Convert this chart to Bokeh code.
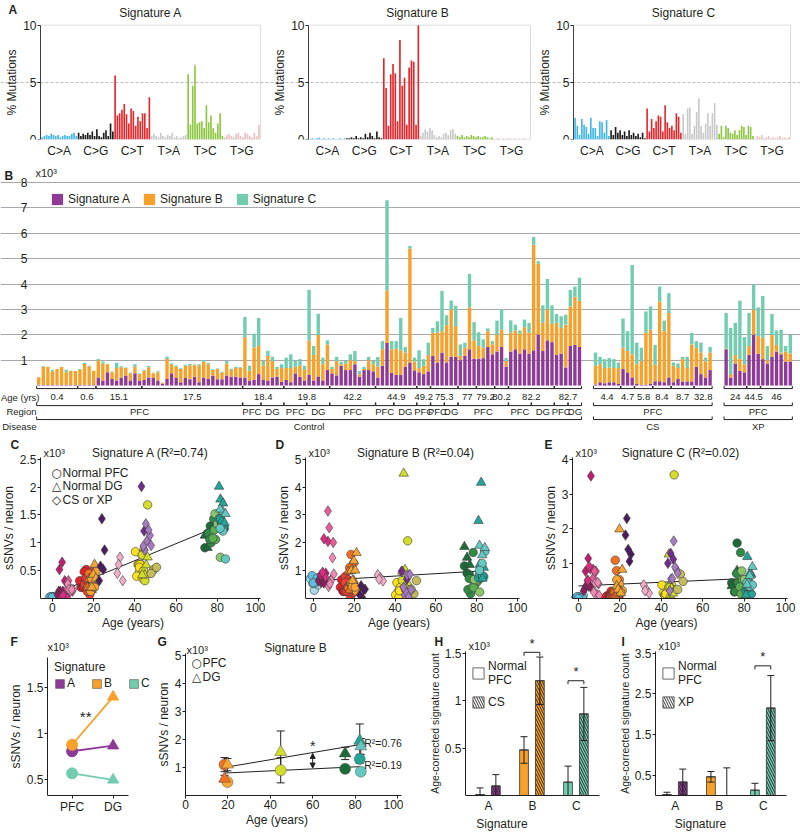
import numpy as np
from bokeh.plotting import figure
from bokeh.layouts import column, row
from bokeh.models import (ColumnDataSource, FixedTicker, Label, Legend, LegendItem, BoxAnnotation,
                          Whisker, TeeHead, Arrow, NormalHead, Range1d, NumeralTickFormatter)
from bokeh.embed import file_html
from bokeh.resources import INLINE
from bokeh.core.properties import value

FONT = "Liberation Sans"
SYMFONT = "DejaVu Sans"
INK = "#231F20"

# ---------------- Panel A: mutational signature profiles (% of mutations) ----------------
mutation_classes = ["C>A", "C>G", "C>T", "T>A", "T>C", "T>G"]
signature_names = ["Signature A", "Signature B", "Signature C"]
profile_sig_a = [
    [0.2, 0.3, 0.4, 0.3, 0.5, 0.4, 0.3, 0.4, 0.2, 0.3, 0.4, 0.3, 0.3, 0.5, 0.6, 0.3],
    [0.6, 0.3, 0.5, 0.4, 0.6, 0.4, 0.7, 0.3, 0.9, 0.3, 0.2, 0.6, 0.8, 0.3, 1.4, 0.7],
    [5.6, 2.1, 2.3, 2.6, 3.1, 2.2, 1.4, 2.7, 2.5, 1.2, 2.0, 1.6, 2.3, 2.3, 1.0, 3.7],
    [0.3, 0.5, 0.3, 0.2, 0.6, 0.3, 0.2, 0.4, 0.3, 0.6, 0.2, 0.3, 0.1, 0.2, 0.3, 0.4],
    [5.7, 1.3, 4.7, 6.5, 1.4, 1.5, 1.6, 1.0, 3.0, 1.5, 2.1, 1.0, 0.6, 1.4, 2.3, 0.3],
    [0.2, 0.4, 0.5, 0.3, 0.2, 0.5, 0.6, 0.3, 0.2, 0.6, 0.5, 0.3, 0.2, 0.6, 0.3, 1.3],
]
profile_sig_b = [
    [0.05, 0.1, 0.05, 0.1, 0.15, 0.05, 0.1, 0.05, 0.1, 0.05, 0.1, 0.05, 0.05, 0.1, 0.05, 0.1],
    [0.1, 0.1, 0.2, 0.1, 0.3, 0.1, 0.2, 0.1, 0.5, 0.2, 0.6, 0.3, 0.1, 0.7, 0.2, 0.1],
    [7.1, 4.5, 1.2, 5.7, 6.6, 5.8, 1.6, 8.7, 4.7, 5.4, 1.3, 6.3, 6.9, 6.8, 1.3, 10.0],
    [0.3, 0.6, 0.9, 0.7, 1.0, 0.8, 0.4, 0.2, 0.3, 0.2, 0.5, 0.6, 0.4, 0.8, 0.9, 0.5],
    [0.3, 0.2, 0.4, 0.2, 0.3, 0.2, 0.4, 0.3, 0.2, 0.3, 0.2, 0.2, 0.3, 0.2, 0.1, 0.2],
    [0.05, 0.1, 0.1, 0.05, 0.1, 0.05, 0.1, 0.1, 0.05, 0.1, 0.05, 0.1, 0.05, 0.1, 0.05, 0.05],
]
profile_sig_c = [
    [1.9, 1.2, 0.4, 1.8, 1.3, 1.1, 0.5, 1.9, 1.0, 1.0, 0.3, 1.6, 1.5, 0.6, 1.7, 0.3],
    [0.8, 0.4, 1.1, 0.6, 0.8, 0.4, 0.7, 0.3, 0.8, 0.4, 0.6, 0.3, 0.5, 0.2, 0.6, 0.1],
    [2.7, 0.7, 1.8, 1.0, 1.6, 2.1, 2.0, 0.7, 3.0, 1.5, 1.0, 1.2, 0.8, 2.3, 2.0, 0.6],
    [2.2, 0.5, 2.7, 2.8, 0.5, 1.2, 2.4, 3.6, 1.2, 0.6, 1.4, 2.3, 1.2, 2.3, 3.2, 1.3],
    [0.5, 1.2, 0.2, 1.2, 1.0, 0.6, 0.5, 0.8, 0.4, 0.8, 1.2, 1.1, 0.4, 1.2, 1.1, 0.3],
    [0.1, 0.3, 0.2, 0.4, 0.1, 0.2, 0.3, 0.1, 0.2, 0.1, 0.2, 0.3, 0.1, 0.2, 0.1, 0.2],
]

# ---------------- Panels B-E: per-neuron signature counts (x10^3) ----------------
group_age = [0.4, 0.6, 15.1, 17.5, 18.4, 18.4, 19.8, 19.8, 42.2, 44.9, 44.9, 49.2, 75.3, 75.3,
             77, 79.2, 80.2, 82.2, 82.2, 82.7, 82.7, 4.4, 4.7, 5.8, 8.4, 8.7, 32.8, 24, 44.5, 46]
group_region = ["PFC", "PFC", "PFC", "PFC", "PFC", "DG", "PFC", "DG", "PFC", "PFC", "DG", "PFC",
                "PFC", "DG", "PFC", "PFC", "PFC", "PFC", "DG", "PFC", "DG",
                "PFC", "PFC", "PFC", "PFC", "PFC", "PFC", "PFC", "PFC", "PFC"]
group_disease = ["Control"] * 21 + ["CS"] * 6 + ["XP"] * 3
group_region_block = [0, 0, 0, 0, 1, 2, 3, 4, 5, 6, 7, 8, 9, 10, 11, 11, 11, 12, 13, 14, 15,
                      16, 16, 16, 16, 16, 16, 17, 17, 17]
sig_a_counts = [
    [0.03, 0.03, 0.02, 0.02, 0.03, 0.02, 0.03, 0.02, 0.02],
    [0.02, 0.03, 0.02, 0.02],
    [0.32, 0.20, 0.52, 0.26, 0.20, 0.32, 0.40, 0.20, 0.48, 0.20],
    [0.22, 0.32, 0.30, 0.20, 0.07, 0.26, 0.48, 0.30, 0.13, 0.30, 0.25, 0.35, 0.13, 0.32, 0.26,
     0.40, 0.25, 0.25, 0.40, 0.35, 0.35, 0.32],
    [0.32, 0.20, 0.23, 0.45],
    [0.22, 0.20, 0.32, 0.35, 0.15],
    [0.22, 0.13, 0.48, 0.35, 0.20],
    [0.43, 0.20, 0.36, 0.20, 0.61],
    [0.48, 0.40, 0.78, 0.61, 0.61, 0.84, 0.35, 0.61, 0.61, 0.56],
    [0.32, 0.78, 1.68, 0.50],
    [0.42, 0.42, 0.74, 0.91, 0.60],
    [0.52, 0.45, 0.56],
    [1.17, 0.91, 1.30],
    [0.91, 1.13, 1.13],
    [1.00, 1.17, 1.43, 1.06],
    [1.06, 1.08, 1.52, 1.23],
    [1.34, 1.52, 0.74],
    [1.34, 1.43, 1.26, 1.43, 1.26],
    [1.39, 2.01, 1.36, 1.78, 1.71],
    [1.21, 1.26, 0.71],
    [1.56, 1.60, 1.52],
    [0.04, 0.13, 0.09, 0.13, 0.13, 0.06],
    [0.65, 0.52, 0.32],
    [0.06, 0.03, 0.03, 0.06],
    [0.17, 0.17, 0.13, 0.32],
    [0.13, 0.26, 0.16, 0.16, 0.16],
    [0.74, 0.45, 0.32, 0.61],
    [1.43, 0.32, 0.87, 0.58, 0.52],
    [1.21, 2.01, 1.26],
    [1.04, 0.87, 1.13, 1.34, 1.23, 0.94, 0.95],
]
sig_b_counts = [
    [0.30, 0.72, 0.72, 0.54, 0.62, 0.71, 0.49, 0.56, 0.55],
    [0.60, 0.82, 0.74, 0.56],
    [0.68, 0.67, 0.32, 0.26, 0.49, 0.40, 0.29, 0.28, 0.26, 0.25],
    [0.36, 0.40, 0.18, 0.32, 0.03, 0.79, 0.36, 0.44, 0.52, 0.48, 0.55, 0.45, 0.67, 0.62, 0.58,
     0.21, 0.40, 0.25, 0.47, 0.26, 0.34, 0.37],
    [1.58, 0.38, 1.27, 1.11],
    [0.56, 0.97, 0.65, 0.30, 0.54],
    [0.47, 0.56, 0.26, 0.43, 0.41],
    [1.35, 1.00, 1.64, 0.64, 1.01],
    [0.17, 0.57, 0.06, 0.26, 0.39, 0.13, 0.10, 0.04, 0.39, 0.28],
    [0.42, 0.65, 2.07, 0.93],
    [1.03, 0.97, 0.56, 4.49, 0.35],
    [0.17, 0.33, 0.64],
    [0.91, 1.17, 0.84],
    [1.47, 1.86, 1.21],
    [0.17, 0.32, 1.65, 0.72],
    [0.50, 0.41, 0.62, 0.39],
    [0.67, 0.68, 0.23],
    [0.74, 0.74, 0.78, 0.87, 0.82],
    [4.16, 2.79, 1.11, 1.22, 0.72],
    [1.26, 1.01, 1.69],
    [1.56, 1.90, 1.82],
    [0.74, 0.71, 0.60, 0.58, 0.56, 0.63],
    [0.84, 0.84, 0.91],
    [0.78, 0.94, 2.05, 2.14],
    [0.65, 3.14, 2.01, 2.54],
    [0.65, 0.43, 0.88, 0.53, 1.46],
    [0.75, 0.85, 0.63, 0.69],
    [0.02, 0.13, 0.33, 0.46, 0.32],
    [0.35, 0.98, 0.69],
    [0.84, 0.13, 0.86, 0.26, 0.07, 0.40, 0.31],
]
sig_c_counts = [
    [0.0, 0.02, 0.0, 0.05, 0.0, 0.0, 0.10, 0.0, 0.0],
    [0.03, 0.05, 0.02, 0.0],
    [0.05, 0.08, 0.02, 0.03, 0.21, 0.04, 0.02, 0.03, 0.10, 0.02],
    [0.03, 0.05, 0.02, 0.04, 0.01, 0.08, 0.04, 0.05, 0.03, 0.04, 0.05, 0.03, 0.04, 0.06, 0.05,
     0.03, 0.02, 0.04, 0.10, 0.05, 0.04, 0.03],
    [0.80, 0.20, 0.54, 1.10],
    [0.19, 0.20, 0.16, 0.09, 0.15],
    [0.41, 0.54, 0.23, 0.26, 0.17],
    [1.99, 0.36, 0.83, 0.26, 0.16],
    [0.09, 0.16, 0.10, 0.10, 0.23, 0.39, 0.13, 0.09, 0.13, 0.13],
    [0.39, 0.32, 3.55, 0.32],
    [0.30, 1.27, 0.22, 0.10, 0.15],
    [0.70, 0.26, 0.49],
    [0.19, 0.45, 1.59],
    [0.39, 0.36, 0.80],
    [0.45, 0.20, 1.32, 0.72],
    [0.54, 0.33, 0.11, 0.13],
    [0.55, 0.79, 0.11],
    [0.49, 0.23, 0.13, 0.30, 0.39],
    [0.30, 0.10, 0.69, 1.20, 0.73],
    [0.35, 0.46, 0.39],
    [0.65, 0.40, 0.91],
    [0.52, 0.29, 0.35, 0.37, 0.35, 0.22],
    [1.15, 0.78, 3.52],
    [0.85, 0.52, 0.84, 0.92],
    [0.78, 0.59, 0.42, 0.78],
    [0.13, 0.18, 0.09, 0.44, 0.46],
    [0.26, 0.39, 0.15, 0.22],
    [1.41, 1.82, 1.27, 2.30, 1.07],
    [1.30, 1.01, 1.13],
    [1.65, 0.56, 0.83, 0.57, 0.90, 0.22, 0.73],
]
fit_age = [0.0, 82.7]
fit_sig_a = [0.07, 1.33]
fit_sig_b = [0.63, 0.99]
fit_sig_c = [0.36, 0.58]
fit_r2 = [0.74, 0.04, 0.02]

# ---------------- Panel F ----------------
f_regions = ["PFC", "DG"]
f_sig_a = [0.81, 0.87]
f_sig_b = [0.88, 1.40]
f_sig_c = [0.57, 0.50]

# ---------------- Panel G (signature B, PFC vs DG) ----------------
g_age = [18.4, 19.8, 44.9, 75.3, 82.2, 82.7]
g_pfc = [1.10, 0.48, 0.90, 0.95, 1.30, 0.85]
g_pfc_err = [0.25, 0.10, 0.45, 0.12, 0.15, 0.12]
g_dg = [0.60, 1.10, 1.55, 1.50, 1.95, 1.75]
g_dg_err = [0.12, 0.22, 0.75, 0.22, 0.60, 0.28]
g_fit_age = [18.4, 82.7]
g_fit_pfc = [0.80, 1.03]
g_fit_dg = [1.00, 1.82]
g_r2_pfc = 0.19
g_r2_dg = 0.76
g_compare_age = 60

# ---------------- Panels H, I (age-corrected counts, x10^3) ----------------
hi_signatures = ["A", "B", "C"]
h_normal = [0.01, 0.48, 0.14]
h_normal_err = [0.07, 0.14, 0.17]
h_cs = [0.10, 1.21, 0.86]
h_cs_err = [0.12, 0.25, 0.28]
h_sig_level = [None, 1.51, 1.21]
i_normal = [0.02, 0.46, 0.13]
i_normal_err = [0.06, 0.13, 0.17]
i_xp = [0.33, 0.0, 2.15]
i_xp_err = [0.32, 0.68, 0.80]
i_sig_level = [None, None, 3.19]

# ---------------- styles ----------------
MUT_COLORS = ["#3FB6E8", "#1B1B1B", "#E2272C", "#C9C9C9", "#8DC641", "#EBC2C4"]
SIG_COLORS = ["#8E3B97", "#F7A12A", "#72CCB0"]
GROUP_COLORS = ["#A6DCEC", "#5DBFDD", "#E2202A", "#EE4136", "#F36F21", "#F36F21", "#F7A533",
                "#F7A533", "#FFE21F", "#D5DD2B", "#D5DD2B", "#C4BC5C", "#1D6B39", "#1D6B39",
                "#2F8A46", "#5BAE52", "#8CC66C", "#23A59A", "#23A59A", "#63C8C2", "#63C8C2",
                "#8A1F5E", "#BE1E6E", "#DA2F80", "#E85C9A", "#EF8AB5", "#F3ADC9",
                "#4A1E5E", "#712E8E", "#A77BC2"]
JITTER = [0.0, -1.3, 1.3, -0.65, 0.65, -1.9, 1.9, -0.3, 0.3]


def style_axis(ax, size="12px"):
    ax.axis_line_color = INK
    ax.major_tick_line_color = INK
    ax.major_tick_out = 3
    ax.major_tick_in = 0
    ax.minor_tick_line_color = None
    ax.major_label_text_font = FONT
    ax.major_label_text_font_size = size
    ax.major_label_text_color = INK
    ax.major_label_standoff = 1
    ax.axis_label_text_font = FONT
    ax.axis_label_text_font_size = size
    ax.axis_label_text_font_style = "normal"
    ax.axis_label_text_color = INK
    ax.axis_label_standoff = 1


def panel(w, h, bb, xs, ax, ppx, ys, ye, ty, x_axis=True):
    """Frame covers the whole canvas except the bottom axis strip.
    xs is drawn ax px from the left edge (ppx px per unit); ye is drawn ty px below the top."""
    fh = h - bb
    ppy = (fh - ty) / (ye - ys)
    kw = {} if x_axis else {"x_axis_type": None}
    p = figure(width=w, height=h,
               x_range=Range1d(xs - ax / ppx, xs + (w - ax) / ppx),
               y_range=Range1d(ys, ye + ty / ppy),
               output_backend="svg", toolbar_location=None,
               min_border_left=0, min_border_right=0, min_border_top=0, min_border_bottom=bb, **kw)
    p.outline_line_color = None
    p.grid.visible = False
    for a in p.axis:
        style_axis(a)
    p.yaxis.fixed_location = xs
    return p


def px_label(p, lx, ly, text, size="12px", style="normal", align="left", baseline="middle", font=FONT):
    """lx, ly: pixels from the top-left corner of the figure canvas."""
    fh = p.height - p.min_border_bottom
    xr, yr = p.x_range, p.y_range
    x = xr.start + lx * (xr.end - xr.start) / p.width
    y = yr.end - ly * (yr.end - yr.start) / fh
    p.add_layout(Label(x=x, y=y, text=text, text_font=font, text_font_size=size,
                       text_font_style=style, text_align=align, text_baseline=baseline,
                       text_color=INK))


def data_label(p, x, y, text, size="12px", align="left", baseline="middle", style="normal"):
    p.add_layout(Label(x=x, y=y, text=text, text_font=FONT, text_font_size=size,
                       text_font_style=style, text_align=align, text_baseline=baseline,
                       text_color=INK))


# ================= Panel A =================
profiles = [profile_sig_a, profile_sig_b, profile_sig_c]
a_specs = [(265, 40, 260, 150), (267, 43, 265, 152), (268, 41, 258, 151)]  # width, axis px, right px, title x
class_centers = [7.5 + 16 * i for i in range(6)]
a_figs = []
for k in range(3):
    w, ax_px, r_px, t_x = a_specs[k]
    vals = [v for cls in profiles[k] for v in cls]
    cols = [MUT_COLORS[i] for i in range(6) for _ in profiles[k][i]]
    xs, xe = -0.7, len(vals) - 0.3
    p = panel(w, 160, 19, xs, ax_px, (r_px - ax_px) / (xe - xs), 0, 10, 25)
    src = ColumnDataSource(dict(x=list(range(len(vals))), top=vals, color=cols))
    p.add_layout(BoxAnnotation(left=xs, right=xe, bottom=0, top=10, fill_alpha=0,
                               line_color="#8A8A8A", line_width=1))
    p.ygrid.visible = True
    p.ygrid.ticker = FixedTicker(ticks=[5])
    p.ygrid.bounds = (xs, xe)
    p.ygrid.grid_line_color = "#BDBDBD"
    p.ygrid.grid_line_dash = "3 2"
    p.vbar(x="x", top="top", width=0.72, fill_color="color", line_color=None, source=src)
    p.yaxis.ticker = FixedTicker(ticks=[0, 5, 10])
    p.yaxis.bounds = (0, 10)
    p.yaxis.axis_label = "% Mutations"
    p.xaxis.ticker = FixedTicker(ticks=class_centers)
    p.xaxis.major_label_overrides = {c: m for c, m in zip(class_centers, mutation_classes)}
    p.xaxis.major_tick_out = 0
    p.xaxis.major_label_standoff = 4
    p.xaxis.axis_line_color = None
    px_label(p, t_x, 13, signature_names[k], align="center")
    if k == 0:
        px_label(p, 8, 10, "A", style="bold")
    a_figs.append(p)

# ================= Panel B =================
bar_x, bar_a, bar_b, bar_c = [], [], [], []
group_first, group_last = [], []
pos = 0.0
for g in range(len(group_age)):
    if g > 0 and group_disease[g] != group_disease[g - 1]:
        pos += 2.5
    group_first.append(pos)
    for a, b, c in zip(sig_a_counts[g], sig_b_counts[g], sig_c_counts[g]):
        bar_x.append(pos)
        bar_a.append(a)
        bar_b.append(b)
        bar_c.append(c)
        pos += 1
    group_last.append(pos - 1)


def runs(keys):
    out, start = [], 0
    for g in range(1, len(keys) + 1):
        if g == len(keys) or keys[g] != keys[start]:
            out.append((start, g - 1))
            start = g
    return out


b_xs, b_xe = -0.7, bar_x[-1] + 0.7
pb = panel(800, 272, 0, b_xs, 35, (793 - 35) / (b_xe - b_xs), -1.85, 8, 22, x_axis=False)
pb.yaxis.ticker = FixedTicker(ticks=list(range(1, 9)))
pb.yaxis.axis_line_color = None
pb.yaxis.major_tick_line_color = None
pb.yaxis.major_label_standoff = 5
pb.ygrid.visible = True
pb.ygrid.ticker = FixedTicker(ticks=list(range(1, 9)))
pb.ygrid.bounds = (b_xs, pb.x_range.end)
pb.ygrid.grid_line_color = "#A7A9AC"

src_b = ColumnDataSource(dict(x=bar_x, a=bar_a, b=bar_b, c=bar_c))
stack_r = pb.vbar_stack(["a", "b", "c"], x="x", width=0.74, color=SIG_COLORS,
                        line_color=None, source=src_b)
pb.add_layout(Legend(items=[LegendItem(label=n, renderers=[r]) for n, r in zip(signature_names, stack_r)],
                     orientation="horizontal", location=(50, 226), margin=0, padding=3,
                     spacing=12, glyph_width=14, glyph_height=14, label_standoff=4,
                     label_text_font=FONT, label_text_font_size="12px", label_text_color=INK,
                     background_fill_alpha=0, border_line_color=None))

rows_spec = [
    (runs([(d, a) for d, a in zip(group_disease, group_age)]), -0.12, -0.02, -0.47,
     lambda g: f"{group_age[g]:g}"),
    (runs(group_region_block), -0.79, -0.67, -1.02, lambda g: group_region[g]),
    (runs(group_disease), -1.34, -1.22, -1.61, lambda g: group_disease[g]),
]
sx0, sy0, sx1, sy1 = [], [], [], []
tx, ty, tt = [], [], []
for rr, yl, ytop, ytext, lab in rows_spec:
    for s, e in rr:
        x0 = group_first[s] - 0.45
        x1 = group_last[e] + 0.45
        sx0 += [x0, x0, x1]
        sx1 += [x1, x0, x1]
        sy0 += [yl, yl, yl]
        sy1 += [yl, ytop, ytop]
        tx.append((x0 + x1) / 2)
        ty.append(ytext)
        tt.append(lab(s))
pb.segment(x0=sx0, y0=sy0, x1=sx1, y1=sy1, line_color=INK, line_width=1)
pb.text(x=tx, y=ty, text=tt, text_font=value(FONT), text_font_size="9.5px",
        text_align="center", text_baseline="middle", text_color=INK)
px_label(pb, 0.5, 237, "Age (yrs)", size="9.5px")
px_label(pb, 36, 251, "Region", size="9.5px", align="right")
px_label(pb, 36, 266, "Disease", size="9.5px", align="right")
px_label(pb, 35, 12, "x10³", size="11px")
px_label(pb, 4, 15, "B", style="bold")

# ================= Panels C, D, E =================
n_x, n_color, n_marker, n_size = [], [], [], []
n_vals = [[], [], []]
for g in range(len(group_age)):
    for j in range(len(sig_a_counts[g])):
        n_x.append(group_age[g] + JITTER[j % len(JITTER)])
        n_color.append(GROUP_COLORS[g])
        if group_disease[g] != "Control":
            n_marker.append("diamond"); n_size.append(10.5)
        elif group_region[g] == "DG":
            n_marker.append("triangle"); n_size.append(9.5)
        else:
            n_marker.append("circle"); n_size.append(8.5)
        n_vals[0].append(sig_a_counts[g][j])
        n_vals[1].append(sig_b_counts[g][j])
        n_vals[2].append(sig_c_counts[g][j])

# width, axis px, x at axis, px per year, top y value, ticks, title x, letter x
cde_specs = [(265, 40, -5.8, 2.06, 2.5, [0.5, 1, 1.5, 2, 2.5], 150, 10),
             (267, 40, -3.9, 2.04, 5.0, [1, 2, 3, 4, 5], 150, 10),
             (268, 40, -2.9, 2.07, 4.0, [1, 2, 3, 4], 148, 12)]
cde_fits = [fit_sig_a, fit_sig_b, fit_sig_c]
cde_letters = ["C", "D", "E"]
cde_figs = []
for k in range(3):
    w, ax_px, xs, ppx, ye, ticks, t_x, l_x = cde_specs[k]
    p = panel(w, 200, 32, xs, ax_px, ppx, 0, ye, 27)
    p.line(fit_age, cde_fits[k], line_color=INK, line_width=1)
    src = ColumnDataSource(dict(x=n_x, y=n_vals[k], color=n_color, marker=n_marker, size=n_size))
    p.scatter(x="x", y="y", marker="marker", size="size", fill_color="color",
              line_color="#3A3A3A", line_width=0.6, source=src)
    p.xaxis.ticker = FixedTicker(ticks=[0, 20, 40, 60, 80, 100])
    p.xaxis.bounds = (xs, 101)
    p.yaxis.ticker = FixedTicker(ticks=ticks)
    p.yaxis.bounds = (0, ye * 1.012)
    p.yaxis.formatter = NumeralTickFormatter(format="0.[0]")
    p.xaxis.axis_label = "Age (years)"
    p.yaxis.axis_label = "sSNVs / neuron"
    px_label(p, t_x, 21, f"{signature_names[k]} (R²={fit_r2[k]:.2f})", align="center")
    px_label(p, ax_px + 3, 21, "x10³", size="11px")
    px_label(p, l_x, 13, cde_letters[k], style="bold")
    if k == 0:
        for i, (sym, t) in enumerate([("○", "Normal PFC"), ("△", "Normal DG"), ("◇", "CS or XP")]):
            px_label(p, 56, 41 + 13.5 * i, sym, size="12px", align="center", font=SYMFONT)
            px_label(p, 62, 41 + 13.5 * i, t, size="12px")
    cde_figs.append(p)

# ================= Panel F =================
pf = panel(150, 201, 36, -0.6, 47, 41, 0.33, 1.83, 25)
f_pos = list(range(len(f_regions)))
f_markers = ["circle", "triangle"]
f_leg = []
for vals, col in zip([f_sig_a, f_sig_b, f_sig_c], SIG_COLORS):
    # zero-height bars at the data points only serve as legend keys
    f_leg.append(pf.vbar(x=f_pos, bottom=vals, top=vals, width=0.01, fill_color=col,
                         line_color="#555555", line_width=0.6))
    pf.line(f_pos, vals, line_color=col, line_width=1.8)
    pf.scatter(f_pos, vals, marker=f_markers, size=11, fill_color=col, line_color=col)
pf.add_layout(Legend(items=[LegendItem(label=s, renderers=[r]) for s, r in zip(hi_signatures, f_leg)],
                     orientation="horizontal", location=(54, 105), title="Signature",
                     title_text_font=FONT, title_text_font_size="12px", title_text_font_style="normal",
                     title_text_color=INK, title_standoff=2,
                     margin=0, padding=3, spacing=4, glyph_width=11, glyph_height=11, label_standoff=2,
                     label_text_font=FONT, label_text_font_size="12px", label_text_color=INK,
                     background_fill_alpha=0, border_line_color=None))
pf.xaxis.ticker = FixedTicker(ticks=f_pos)
pf.xaxis.major_label_overrides = {i: r for i, r in zip(f_pos, f_regions)}
pf.xaxis.bounds = (-0.6, 1.38)
pf.yaxis.ticker = FixedTicker(ticks=[0.5, 1, 1.5])
pf.yaxis.bounds = (0.33, 1.83)
pf.yaxis.formatter = NumeralTickFormatter(format="0.[0]")
pf.yaxis.axis_label = "sSNVs / neuron"
data_label(pf, 0.33, 1.19, "**", size="15px", align="center")
px_label(pf, 47, 15, "x10³", size="11px")
px_label(pf, 10, 10, "F", style="bold")

# ================= Panel G =================
pg = panel(253, 201, 36, 0, 35, 2.12, 0, 5, 23)
age_color = {}
for a_, c_ in zip(group_age, GROUP_COLORS):
    age_color.setdefault(a_, c_)
g_colors = [age_color[a_] for a_ in g_age]
for means, errs in [(g_pfc, g_pfc_err), (g_dg, g_dg_err)]:
    wsrc = ColumnDataSource(dict(base=g_age, upper=[m + e for m, e in zip(means, errs)],
                                 lower=[m - e for m, e in zip(means, errs)]))
    pg.add_layout(Whisker(source=wsrc, base="base", upper="upper", lower="lower", level="underlay",
                          line_color=INK, line_width=1,
                          upper_head=TeeHead(size=8, line_color=INK, line_width=1),
                          lower_head=TeeHead(size=8, line_color=INK, line_width=1)))
pg.line(g_fit_age, g_fit_pfc, line_color=INK, line_width=1)
pg.line(g_fit_age, g_fit_dg, line_color=INK, line_width=1)
pg.scatter(g_age, g_pfc, marker="circle", size=11, fill_color=g_colors, line_color="#555555", line_width=0.5)
pg.scatter(g_age, g_dg, marker="triangle", size=12, fill_color=g_colors, line_color="#555555", line_width=0.5)
y_lo = float(np.interp(g_compare_age, g_fit_age, g_fit_pfc))
y_hi = float(np.interp(g_compare_age, g_fit_age, g_fit_dg))
pg.add_layout(Arrow(start=NormalHead(size=5, fill_color=INK, line_color=INK),
                    end=NormalHead(size=5, fill_color=INK, line_color=INK),
                    x_start=g_compare_age, y_start=y_lo + 0.03, x_end=g_compare_age, y_end=y_hi - 0.03,
                    line_color=INK, line_width=1))
data_label(pg, g_compare_age, y_hi + 0.22, "*", size="14px", align="center")
data_label(pg, g_fit_age[-1] + 1.6, g_fit_dg[-1] + 0.05, f"R²={g_r2_dg:.2f}", size="10.5px")
data_label(pg, g_fit_age[-1] + 1.6, g_fit_pfc[-1] + 0.05, f"R²={g_r2_pfc:.2f}", size="10.5px")
pg.xaxis.ticker = FixedTicker(ticks=[0, 20, 40, 60, 80, 100])
pg.xaxis.bounds = (0, 102)
pg.yaxis.ticker = FixedTicker(ticks=[1, 2, 3, 4, 5])
pg.yaxis.bounds = (0, 5.06)
pg.xaxis.axis_label = "Age (years)"
pg.yaxis.axis_label = "sSNVs / neuron"
px_label(pg, 145, 16, "Signature B", align="center")
for i, (sym, t) in enumerate([("○", "PFC"), ("△", "DG")]):
    px_label(pg, 46, 31 + 14 * i, sym, size="12px", align="center", font=SYMFONT)
    px_label(pg, 52, 31 + 14 * i, t, size="12px")
px_label(pg, 36, 18, "x10³", size="11px")
px_label(pg, 7, 10, "G", style="bold")


# ================= Panels H, I =================
def corrected_panel(w, ax_px, xs, ye, normal, normal_err, dis, dis_err, sig_level, dis_name,
                    yticks, letter, letter_x, leg_x):
    p = panel(w, 201, 36, xs, ax_px, 44, 0, ye, 21)
    xs_cat = list(range(len(hi_signatures)))
    xn = [x - 0.19 for x in xs_cat]
    xd = [x + 0.17 for x in xs_cat]
    p.vbar(x=xn, top=normal, width=0.2, fill_color=SIG_COLORS, line_color="#333333", line_width=0.8)
    p.vbar(x=xd, top=dis, width=0.2, fill_color=SIG_COLORS, line_color="#333333", line_width=0.8,
           hatch_pattern="left_diagonal_line", hatch_color=INK, hatch_scale=5, hatch_weight=0.9)
    for xx, mm, ee in [(xn, normal, normal_err), (xd, dis, dis_err)]:
        wsrc = ColumnDataSource(dict(base=xx, upper=[m + e for m, e in zip(mm, ee)],
                                     lower=[max(0.0, m - e) for m, e in zip(mm, ee)]))
        p.add_layout(Whisker(source=wsrc, base="base", upper="upper", lower="lower", level="overlay",
                             line_color=INK, line_width=1,
                             upper_head=TeeHead(size=7, line_color=INK, line_width=1),
                             lower_head=TeeHead(size=7, line_color=INK, line_width=1)))
    bx0, by0, bx1, by1 = [], [], [], []
    tick = ye * 0.025
    for i, lvl in enumerate(sig_level):
        if lvl is None:
            continue
        bx0 += [xn[i], xn[i], xd[i]]
        bx1 += [xd[i], xn[i], xd[i]]
        by0 += [lvl, lvl, lvl]
        by1 += [lvl, lvl - tick, lvl - tick]
        data_label(p, (xn[i] + xd[i]) / 2, lvl + tick * 0.4, "*", size="13px", align="center",
                   baseline="bottom")
    p.segment(x0=bx0, y0=by0, x1=bx1, y1=by1, line_color=INK, line_width=1)
    # zero-height bars on top of the real bars serve as legend keys
    r_norm = p.vbar(x=xn, bottom=normal, top=normal, width=0.2, fill_color="white",
                    line_color="#444444", line_width=0.8)
    r_dis = p.vbar(x=xd, bottom=dis, top=dis, width=0.2, fill_color="white", line_color="#444444",
                   line_width=0.8, hatch_pattern="left_diagonal_line", hatch_color=INK,
                   hatch_scale=5, hatch_weight=0.9)
    p.add_layout(Legend(items=[LegendItem(label="Normal\nPFC", renderers=[r_norm]),
                               LegendItem(label=dis_name, renderers=[r_dis])],
                        location=(leg_x, 86), margin=0, padding=2, spacing=8,
                        glyph_width=14, glyph_height=14, label_standoff=3,
                        label_text_font=FONT, label_text_font_size="12px", label_text_color=INK,
                        background_fill_alpha=0, border_line_color=None))
    p.xaxis.ticker = FixedTicker(ticks=xs_cat)
    p.xaxis.major_label_overrides = {i: s for i, s in zip(xs_cat, hi_signatures)}
    p.xaxis.major_tick_out = 0
    p.xaxis.major_label_standoff = 3
    p.xaxis.bounds = (xs, 2.52)
    p.yaxis.ticker = FixedTicker(ticks=yticks)
    p.yaxis.bounds = (0, ye * 1.015)
    p.yaxis.formatter = NumeralTickFormatter(format="0.[0]")
    p.yaxis.axis_label = "Age-corrected signature count"
    p.yaxis.axis_label_text_font_size = "10.5px"
    p.xaxis.axis_label = "Signature"
    px_label(p, ax_px + 3, 14, "x10³", size="11px")
    px_label(p, letter_x, 10, letter, style="bold")
    return p


ph = corrected_panel(197, 62, -0.52, 1.5, h_normal, h_normal_err, h_cs, h_cs_err, h_sig_level, "CS",
                     [0.5, 1, 1.5], "H", 31, 68)
pi = corrected_panel(200, 55, -0.45, 3.5, i_normal, i_normal_err, i_xp, i_xp_err, i_sig_level, "XP",
                     [0.5, 1.5, 2.5, 3.5], "I", 21, 61)

layout = column(row(*a_figs), pb, row(*cde_figs), row(pf, pg, ph, pi))
open("out.html", "w").write(file_html(layout, INLINE))
